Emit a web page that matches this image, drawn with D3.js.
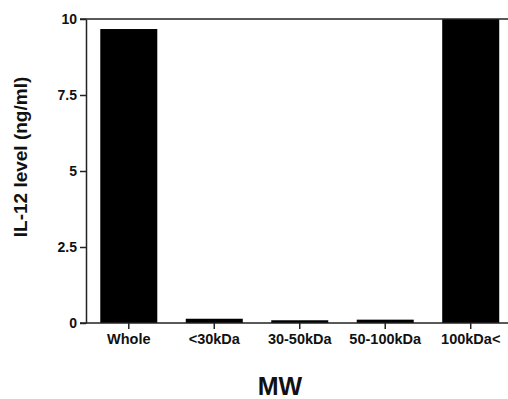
<!DOCTYPE html>
<html>
<head>
<meta charset="utf-8">
<script src="https://cdn.jsdelivr.net/npm/d3@7"></script>
<style>
  body { margin: 0; background: #fff; }
  text { font-family: "Liberation Sans", Arial, Helvetica, sans-serif; font-weight: bold; fill: #111; }
</style>
</head>
<body>
<div id="chart"></div>
<script>
// Data
const categories = ["Whole", "<30kDa", "30-50kDa", "50-100kDa", "100kDa<"];
const il12 = [9.67, 0.14, 0.09, 0.11, 10.0];
const yTicks = [0, 2.5, 5, 7.5, 10];

const width = 508;
const height = 399;
const marginTop = 19;
const marginLeft = 86;
const marginBottom = 76;  // zero line at y = 323
const plotRight = 513.5;

const svg = d3.select("#chart").append("svg")
    .attr("width", width)
    .attr("height", height);

const x = d3.scaleBand()
    .domain(categories)
    .range([marginLeft, plotRight])
    .paddingInner(0.333)
    .paddingOuter(0.167);

const y = d3.scaleLinear()
    .domain([0, 10])
    .range([height - marginBottom, marginTop]);

// Bars
svg.append("g")
    .selectAll("rect")
    .data(il12)
    .join("rect")
    .attr("x", (d, i) => x(categories[i]))
    .attr("y", d => y(d))
    .attr("width", x.bandwidth())
    .attr("height", d => y(0) - y(d))
    .attr("fill", "#000");

// Top frame line
svg.append("line")
    .attr("x1", marginLeft - 6)
    .attr("x2", width)
    .attr("y1", y(10))
    .attr("y2", y(10))
    .attr("stroke", "#222")
    .attr("stroke-width", 1.5);

// Y axis
const yAxis = d3.axisLeft(y)
    .tickValues(yTicks)
    .tickFormat(d => String(d))
    .tickSize(6)
    .tickPadding(3)
    .tickSizeOuter(0);

const gy = svg.append("g")
    .attr("transform", `translate(${marginLeft},0)`)
    .call(yAxis);
gy.select(".domain").attr("stroke", "#222").attr("stroke-width", 1.5);
gy.selectAll(".tick line").attr("stroke", "#222").attr("stroke-width", 1.5);
gy.selectAll(".tick text")
    .attr("font-size", 14)
    .attr("font-family", null)
    .attr("fill", "#111");

// X axis
const xAxis = d3.axisBottom(x)
    .tickSize(6)
    .tickPadding(5)
    .tickSizeOuter(0);

const gx = svg.append("g")
    .attr("transform", `translate(0,${y(0)})`)
    .call(xAxis);
gx.select(".domain").remove();
gx.append("line")
    .attr("x1", marginLeft - 6)
    .attr("x2", width)
    .attr("stroke", "#222")
    .attr("stroke-width", 1.5);
gx.selectAll(".tick line").attr("stroke", "#222").attr("stroke-width", 1.5);
gx.selectAll(".tick text")
    .attr("font-size", 14.5)
    .attr("font-family", null)
    .attr("fill", "#111");

// Axis titles
svg.append("text")
    .attr("transform", "translate(27,157) rotate(-90)")
    .attr("text-anchor", "middle")
    .attr("font-size", 19)
    .text("IL-12 level (ng/ml)");

svg.append("text")
    .attr("x", 280)
    .attr("y", 395)
    .attr("text-anchor", "middle")
    .attr("font-size", 25)
    .text("MW");
</script>
</body>
</html>
